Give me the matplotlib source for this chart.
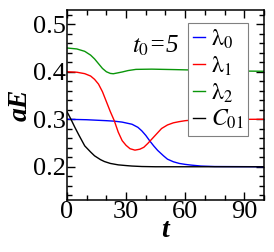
import matplotlib
matplotlib.use("Agg")
import matplotlib.pyplot as plt
from matplotlib.ticker import MultipleLocator

plt.rcParams['font.family'] = ['Liberation Serif', 'DejaVu Serif']
plt.rcParams['mathtext.fontset'] = 'stix'

# values
t_c01 = [0, 2, 4, 6, 9, 12, 14, 17, 19, 22, 26, 30, 33, 38, 45, 100]
c01 = [0.316, 0.300, 0.283, 0.267, 0.244, 0.231, 0.223, 0.215, 0.211, 0.207, 0.204, 0.2025, 0.2015, 0.2005, 0.2, 0.2]

t_l0 = [0, 10, 20, 24, 28, 33, 36, 38, 40, 42, 44, 46, 49, 51, 54, 57, 60, 63, 68, 75, 100]
l0 = [0.300, 0.299, 0.297, 0.296, 0.294, 0.2895, 0.283, 0.2755, 0.266, 0.2545, 0.244, 0.2345, 0.223, 0.216, 0.2105, 0.207, 0.205, 0.2035, 0.2015, 0.2005, 0.2]

t_l1 = [0, 5, 9, 12, 14, 16, 18, 20, 22, 24, 26, 28, 30, 32, 34.5, 37, 39, 41, 43, 45, 48, 51, 54, 57, 60, 64, 70, 100]
l1 = [0.400, 0.399, 0.396, 0.391, 0.384, 0.374, 0.358, 0.337, 0.316, 0.297, 0.273, 0.255, 0.245, 0.238, 0.235, 0.237, 0.241, 0.249, 0.258, 0.267, 0.2805, 0.288, 0.2925, 0.295, 0.297, 0.2985, 0.2995, 0.3]

t_l2 = [0, 5, 9, 12, 14, 16, 18, 20, 22, 23.5, 25, 28, 31, 35, 43, 55, 65, 80, 100]
l2 = [0.450, 0.448, 0.443, 0.435, 0.427, 0.417, 0.407, 0.400, 0.3965, 0.3958, 0.397, 0.3995, 0.4025, 0.405, 0.4055, 0.4045, 0.4035, 0.402, 0.401]

labels = [r'$\mathrm{\lambda}_0$', r'$\mathrm{\lambda}_1$', r'$\mathrm{\lambda}_2$', r'$C_{\mathit{01}}$']

fig = plt.figure(figsize=(2.74, 2.52), dpi=100)
ax = fig.add_axes([0.2445, 0.2063, 0.719, 0.754])

ax.plot(t_l0, l0, color='#0000ff', lw=1.0, label=labels[0])
ax.plot(t_l1, l1, color='#ff0000', lw=1.0, label=labels[1])
ax.plot(t_l2, l2, color='#0a960a', lw=1.0, label=labels[2])
ax.plot(t_c01, c01, color='black', lw=1.0, label=labels[3])

ax.set_xlim(0, 100)
ax.set_ylim(0.13, 0.53)
ax.xaxis.set_major_locator(MultipleLocator(30))
ax.xaxis.set_minor_locator(MultipleLocator(10))
ax.yaxis.set_major_locator(MultipleLocator(0.1))
ax.yaxis.set_minor_locator(MultipleLocator(0.02))
ax.tick_params(which='both', direction='in', top=True, right=True, width=1.0, labelsize=19, pad=1)
ax.tick_params(which='major', length=6)
ax.tick_params(which='minor', length=3.5)
for s in ax.spines.values():
    s.set_linewidth(1.1)

ax.set_xlabel('t', fontsize=20, fontweight='bold', fontstyle='italic', labelpad=-4)
ax.set_ylabel('aE', fontsize=20, fontweight='bold', fontstyle='italic', labelpad=0)

ax.text(0.45, 0.81, r'$t_{\mathit{0}}$=5', transform=ax.transAxes, ha='center', va='center',
        fontsize=18, fontstyle='italic')

leg = ax.legend(loc='upper right', bbox_to_anchor=(0.919, 0.932), borderaxespad=0,
                fontsize=17, handlelength=0.5, handletextpad=0.25, labelspacing=0.15,
                borderpad=0.2, fancybox=False, framealpha=1, edgecolor='gray')
leg.get_frame().set_linewidth(0.8)

fig.savefig('out.png', dpi=100)
